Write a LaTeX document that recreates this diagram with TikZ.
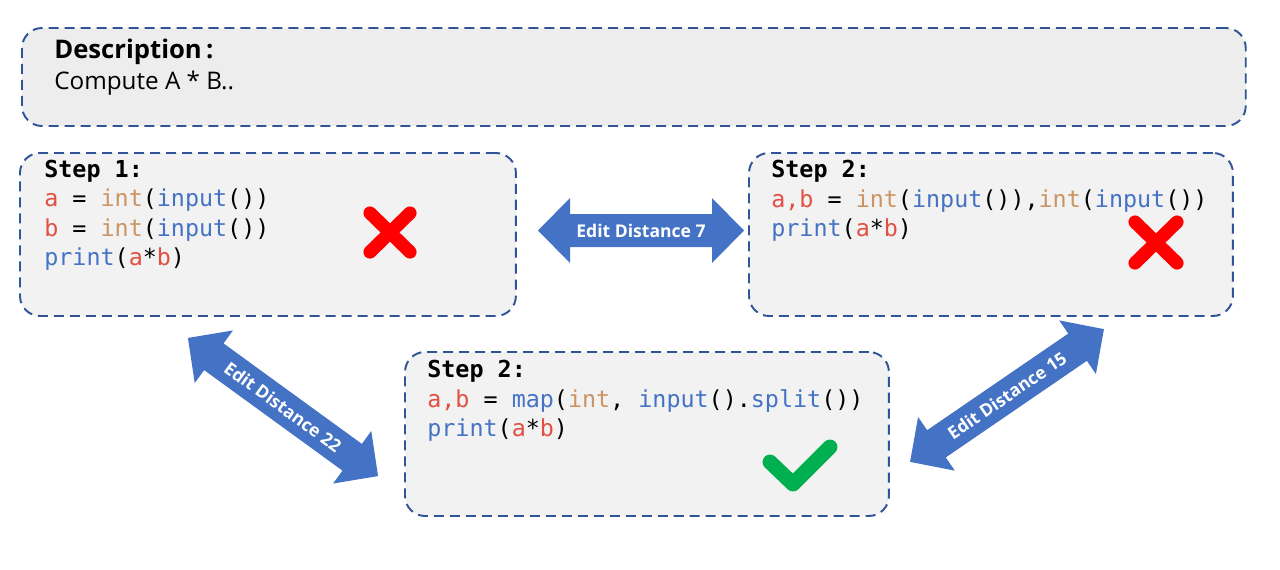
\documentclass[tikz,border=0pt]{standalone}
\usepackage{fontspec}
\setmainfont{Open Sans}
\setmonofont{DejaVu Sans Mono}
\definecolor{boxline}{RGB}{47,85,151}
\definecolor{descfill}{RGB}{237,237,237}
\definecolor{stepfill}{RGB}{242,242,242}
\definecolor{arrowblue}{RGB}{68,114,196}
\definecolor{codered}{RGB}{226,80,68}
\definecolor{codetan}{RGB}{204,148,98}
\definecolor{codeblue}{RGB}{68,114,196}
\definecolor{okgreen}{RGB}{0,176,80}
\newcommand{\cvar}[1]{\textcolor{codered}{#1}}
\newcommand{\cint}[1]{\textcolor{codetan}{#1}}
\newcommand{\cfun}[1]{\textcolor{codeblue}{#1}}

\begin{document}
\begin{tikzpicture}[x=0.02cm,y=-0.02cm,
	box/.style={draw=boxline,line width=1.1pt,dash pattern=on 5.7pt off 3.4pt,rounded corners=0.4cm,anchor=north west,inner sep=0pt,outer sep=0pt},
	code/.style={anchor=west,inner sep=0pt,font=\ttfamily\fontsize{13.3}{15}\selectfont},
	stephead/.style={code,font=\ttfamily\bfseries\fontsize{13.3}{15}\selectfont},
	arrowtext/.style={text=white,font=\bfseries\fontsize{10}{12}\selectfont,inner sep=0pt,transform shape},
	cross/.style={draw=red,line width=7.5pt,line cap=round},
	tick/.style={draw=okgreen,line width=8.5pt,line cap=round,line join=round}]
	\useasboundingbox (0,0) rectangle (1280,569);

	% description
	\node[box,fill=descfill,minimum width=24.48cm,minimum height=1.96cm] (desc) at (22,28) {};
	\node[anchor=west,inner sep=0pt,font=\bfseries\fontsize{14.6}{17}\selectfont] (desct) at (54,52) {Description\,:};
	\node[anchor=west,inner sep=0pt,font=\fontsize{13.8}{16}\selectfont] (descc) at (54,83) {Compute A * B..};

	% step 1
	\node[box,fill=stepfill,minimum width=9.92cm,minimum height=3.26cm] (s1) at (20,153) {};
	\node[stephead] (s1h) at (44,171) {Step 1:};
	\node[code] (s1a) at (44,200) {\cvar{a} = \cint{int}(\cfun{input}())};
	\node[code] (s1b) at (44,230) {\cvar{b} = \cint{int}(\cfun{input}())};
	\node[code] (s1c) at (44,259) {\cfun{print}(\cvar{a}*\cvar{b})};
	\draw[cross] (370,213) -- (410,252) (410,213) -- (370,252);

	% step 2, right
	\node[box,fill=stepfill,minimum width=9.68cm,minimum height=3.26cm] (s2) at (749,153) {};
	\node[stephead] (s2h) at (771,171) {Step 2:};
	\node[code] (s2a) at (771,201) {\cvar{a,b} = \cint{int}(\cfun{input}()),\cint{int}(\cfun{input}())};
	\node[code] (s2b) at (771,230) {\cfun{print}(\cvar{a}*\cvar{b})};
	\draw[cross] (1135,222) -- (1177,263) (1177,222) -- (1135,263);

	% step 2, bottom
	\node[box,fill=stepfill,minimum width=9.68cm,minimum height=3.28cm] (s3) at (405,352) {};
	\node[stephead] (s3h) at (427,371) {Step 2:};
	\node[code] (s3a) at (427,401) {\cvar{a,b} = \cfun{map}(\cint{int}, \cfun{input}().\cfun{split}())};
	\node[code] (s3b) at (427,430) {\cfun{print}(\cvar{a}*\cvar{b})};
	\draw[tick] (770,462) -- (793,484) -- (830,447);

	% edit distance arrows
	\begin{scope}[shift={(641,230.5)}]
		\fill[arrowblue] (-103,0) -- (-71,32.5) -- (-71,16.5) -- (71,16.5) -- (71,32.5) -- (103,0) -- (71,-32.5) -- (71,-16.5) -- (-71,-16.5) -- (-71,-32.5) -- cycle;
		\node[arrowtext] (d7) at (0,0) {Edit Distance 7};
	\end{scope}
	\begin{scope}[shift={(283,407)},rotate=-36]
		\fill[arrowblue] (-117.5,0) -- (-85.5,32.5) -- (-85.5,16.5) -- (85.5,16.5) -- (85.5,32.5) -- (117.5,0) -- (85.5,-32.5) -- (85.5,-16.5) -- (-85.5,-16.5) -- (-85.5,-32.5) -- cycle;
		\node[arrowtext] (d22) at (0,0) {Edit Distance 22};
	\end{scope}
	\begin{scope}[shift={(1007,395.5)},rotate=34.4]
		\fill[arrowblue] (-117.5,0) -- (-85.5,32.5) -- (-85.5,16.5) -- (85.5,16.5) -- (85.5,32.5) -- (117.5,0) -- (85.5,-32.5) -- (85.5,-16.5) -- (-85.5,-16.5) -- (-85.5,-32.5) -- cycle;
		\node[arrowtext] (d15) at (0,0) {Edit Distance 15};
	\end{scope}
\end{tikzpicture}
\end{document}
